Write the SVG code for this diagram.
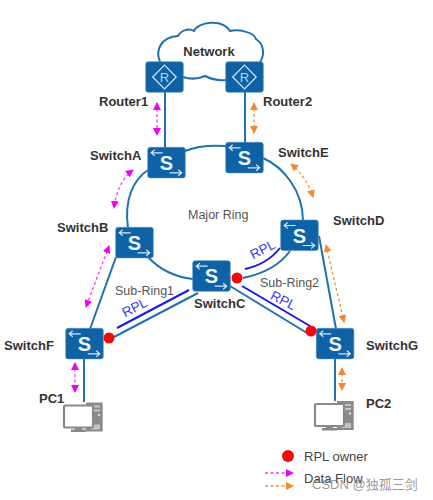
<svg xmlns="http://www.w3.org/2000/svg" width="433" height="500" viewBox="0 0 433 500">
<style>
text{font-family:"Liberation Sans",Arial,sans-serif}
.b{font-size:13px;font-weight:700;fill:#333}
.r{font-size:12.5px;fill:#555}
.rpl{font-size:13.5px;fill:#3a3af0}
.l{fill:none;stroke:#1f72ad;stroke-width:2}
.p{fill:none;stroke:#1a1ae0;stroke-width:2}
.m{fill:none;stroke:#f43cf4;stroke-width:1.3;stroke-dasharray:3 2.5;marker-start:url(#am);marker-end:url(#am)}
.o{fill:none;stroke:#ee9142;stroke-width:1.3;stroke-dasharray:3 2.5;marker-start:url(#ao);marker-end:url(#ao)}
.box{fill:#0f62a5;stroke:#4d8fc0;stroke-width:.6}
.w{fill:none;stroke:#d8e8f4;stroke-width:1.2}
.st{font-size:20px;font-weight:700;fill:#eef5fb}
.pcd{fill:#8a8a8a}
</style>
<defs>
<marker id="am" viewBox="0 0 8 8" refX="7" refY="4" markerUnits="userSpaceOnUse" markerWidth="8" markerHeight="8" orient="auto-start-reverse"><path d="M0 0L8 4L0 8Z" fill="#f000f0"/></marker>
<marker id="ao" viewBox="0 0 8 8" refX="7" refY="4" markerUnits="userSpaceOnUse" markerWidth="8" markerHeight="8" orient="auto-start-reverse"><path d="M0 0L8 4L0 8Z" fill="#ee8a35"/></marker>
<marker id="amE" viewBox="0 0 8 8" refX="7" refY="4" markerUnits="userSpaceOnUse" markerWidth="8" markerHeight="8" orient="auto"><path d="M0 0L8 4L0 8Z" fill="#f000f0"/></marker>
<marker id="aoE" viewBox="0 0 8 8" refX="7" refY="4" markerUnits="userSpaceOnUse" markerWidth="8" markerHeight="8" orient="auto"><path d="M0 0L8 4L0 8Z" fill="#ee8a35"/></marker>
<g id="sw">
<rect class="box" width="37.6" height="30.6" rx="2.5"/>
<path class="w" d="M15 5.5H3.5M7 2.5L3.5 5.5L7 8.5M22 25.5H34M30.5 22.5L34 25.5L30.5 28.5"/>
<text class="st" x="18.8" y="22.5" text-anchor="middle">S</text>
</g>
<g id="rt">
<rect class="box" width="37.6" height="30.6" rx="2.5"/>
<path class="w" d="M18.8 3.5L30.5 15.3L18.8 27.1L7 15.3Z"/>
<text x="18.8" y="20" text-anchor="middle" font-size="13" fill="#b9d4e8">R</text>
</g>
<g id="pc">
<path class="pcd" d="M22 1H38.7V30H22Z"/>
<path d="M25 4H36V6H25ZM25 8H36V10H25Z" fill="#c4c4c4"/>
<circle cx="35" cy="13.5" r="1.2" fill="#ddd"/>
<path d="M27 23H36V28H27Z" fill="#c4c4c4"/>
<rect x="0" y="4" width="29" height="22" rx="1.5" fill="#fff" stroke="#8a8a8a" stroke-width="2.2"/>
<path class="pcd" d="M11 26H18V28H22V30.5H7V28H11Z"/>
</g>
</defs>

<g id="connectors">
<path class="l" d="M165 92V148M245 92V143"/>
<path class="l" d="M183 77C192 80 198 79 205 76C211 79 217 81 226 80"/>
<path class="l" d="M185 151C197 146 212 145 226 146"/>
<path class="l" d="M148 170C133 180 124 200 128 228"/>
<path class="l" d="M263 158C283 167 303 190 303 221"/>
<path class="l" d="M148 257C160 270 175 277 193 279"/>
<path class="l" d="M243 278C262 274 280 265 290 251"/>
<path class="l" d="M90 329L116 257"/>
<path class="l" d="M114 337L198 293"/>
<path class="l" d="M230 286L307 333"/>
<path class="l" d="M319 236L336 329"/>
<path class="l" d="M84 359V402M335 359V401"/>
<path class="p" d="M117 328L189 290"/>
<path class="p" d="M245 269C259 266 272 258 280 248"/>
<path class="p" d="M242 286L310 326"/>
<path class="m" d="M157 103V135"/>
<path class="o" d="M254 103V133"/>
<path class="m" d="M133 170C122 178 116 192 114 208"/>
<path class="o" d="M291 164C301 172 309 184 313 197"/>
<path class="m" d="M109 246L86 307"/>
<path class="o" d="M326 245L344 322"/>
<path class="m" d="M75 363V392"/>
<path class="o" d="M342 368V390"/>
</g>

<g id="network">
<path d="M160 62C155 50 161 37 178 36C181 30 189 28 194 31C198 22 222 18 230 31C238 29 254 32 256 39C264 44 265 55 260 62" fill="#fff" stroke="#1f72ad" stroke-width="2"/>
<text class="b" x="209" y="56" text-anchor="middle">Network</text>
</g>
<g id="router1"><use href="#rt" x="145.7" y="61.7"/><text class="b" x="99" y="106">Router1</text></g>
<g id="router2"><use href="#rt" x="225.7" y="61.7"/><text class="b" x="263" y="106">Router2</text></g>
<g id="switchA"><use href="#sw" x="147.7" y="147.3"/><text class="b" x="90" y="160">SwitchA</text></g>
<g id="switchE"><use href="#sw" x="225.7" y="142.3"/><text class="b" x="278" y="157">SwitchE</text></g>
<g id="switchB"><use href="#sw" x="115.7" y="227.3"/><text class="b" x="57" y="232">SwitchB</text></g>
<g id="switchC"><use href="#sw" x="192.7" y="260.7"/><text class="b" x="194" y="308">SwitchC</text></g>
<g id="switchD"><use href="#sw" x="280.7" y="220"/><text class="b" x="333" y="225">SwitchD</text></g>
<g id="switchF"><use href="#sw" x="65.7" y="328.3"/><text class="b" x="4" y="350">SwitchF</text></g>
<g id="switchG"><use href="#sw" x="316.3" y="328.3"/><text class="b" x="366" y="350">SwitchG</text></g>
<g id="pc1"><use href="#pc" x="64" y="401.5"/><text class="b" x="39" y="403">PC1</text></g>
<g id="pc2"><use href="#pc" x="315" y="400"/><text class="b" x="366" y="408">PC2</text></g>

<g id="rpl-owners" fill="#f00a0a">
<circle cx="109" cy="338" r="5.5"/>
<circle cx="237" cy="278" r="5.5"/>
<circle cx="311" cy="331" r="5.5"/>
</g>

<g id="labels">
<text class="r" x="188" y="219">Major Ring</text>
<text class="r" x="115" y="295">Sub-Ring1</text>
<text class="r" x="260" y="287">Sub-Ring2</text>
<text class="rpl" transform="translate(135 308) rotate(-27)" text-anchor="middle" y="4">RPL</text>
<text class="rpl" transform="translate(263 250) rotate(-27)" text-anchor="middle" y="4">RPL</text>
<text class="rpl" transform="translate(283 301) rotate(27)" text-anchor="middle" y="4">RPL</text>
</g>

<g id="legend">
<circle cx="288" cy="456" r="6" fill="#f00a0a"/>
<text x="304" y="461" font-size="13" fill="#444">RPL owner</text>
<path d="M265 473H293" fill="none" stroke="#f43cf4" stroke-width="1.3" stroke-dasharray="3 2.5" marker-end="url(#amE)"/>
<path d="M265 486H293" fill="none" stroke="#ee9142" stroke-width="1.3" stroke-dasharray="3 2.5" marker-end="url(#aoE)"/>
<text x="304" y="483" font-size="13" fill="#444">Data Flow</text>
<text x="312" y="489" font-size="13" fill="#777" fill-opacity=".75" style="font-family:'Liberation Sans','Noto Sans CJK SC',sans-serif">CSDN @独孤三剑</text>
</g>
</svg>
